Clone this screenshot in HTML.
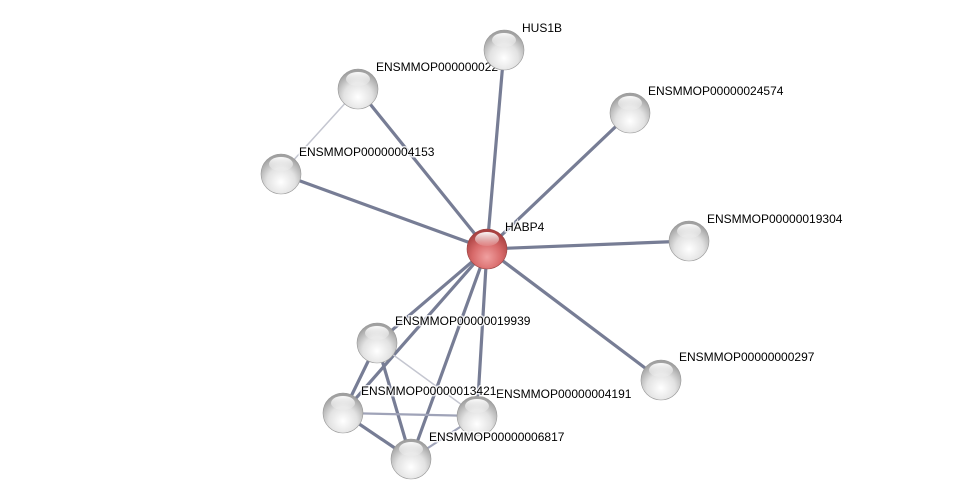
<!DOCTYPE html>
<html><head><meta charset="utf-8"><style>
html,body{margin:0;padding:0;background:#fff;}
svg{display:block}
text{font-family:"Liberation Sans",sans-serif;font-size:12px;fill:#000;}
</style></head><body>
<svg width="975" height="504" viewBox="0 0 975 504" xmlns="http://www.w3.org/2000/svg">
<defs>
<radialGradient id="g" cx="0.5" cy="0.7" r="0.65">
<stop offset="0" stop-color="#ffffff"/>
<stop offset="0.55" stop-color="#e2e2e2"/>
<stop offset="1" stop-color="#a0a0a0"/>
</radialGradient>
<radialGradient id="r" cx="0.5" cy="0.7" r="0.65">
<stop offset="0" stop-color="#f0a0a0"/>
<stop offset="0.55" stop-color="#d86a6a"/>
<stop offset="1" stop-color="#a84040"/>
</radialGradient>
<linearGradient id="hl" x1="0" y1="0" x2="0" y2="1">
<stop offset="0" stop-color="#fff" stop-opacity="0.95"/>
<stop offset="1" stop-color="#fff" stop-opacity="0.1"/>
</linearGradient>
<g id="sph"><ellipse cx="0" cy="-10" rx="12" ry="7" fill="url(#hl)"/></g>
</defs>
<g stroke="#777d95" stroke-width="3.2" stroke-linecap="round">
<line x1="487" y1="249" x2="504" y2="50"/>
<line x1="487" y1="249" x2="358" y2="89"/>
<line x1="487" y1="249" x2="630" y2="113"/>
<line x1="487" y1="249" x2="281" y2="174"/>
<line x1="487" y1="249" x2="689" y2="241"/>
<line x1="487" y1="249" x2="661" y2="380"/>
<line x1="487" y1="249" x2="377" y2="343"/>
<line x1="487" y1="249" x2="343" y2="413"/>
<line x1="487" y1="249" x2="477" y2="416"/>
<line x1="487" y1="249" x2="411" y2="459"/>
<line x1="377" y1="343" x2="343" y2="413"/>
<line x1="377" y1="343" x2="411" y2="459"/>
<line x1="343" y1="413" x2="411" y2="459"/>
</g>
<g stroke="#9fa3b8" stroke-width="2.2">
<line x1="343" y1="413" x2="477" y2="416"/>
<line x1="411" y1="459" x2="477" y2="416"/>
</g>
<g stroke="#c4c6d0" stroke-width="1.5">
<line x1="358" y1="89" x2="281" y2="174"/>
<line x1="377" y1="343" x2="477" y2="416"/>
</g>
<g style="paint-order:stroke" stroke="#fff" stroke-width="3" stroke-opacity="0.8">
<text x="376" y="71">ENSMMOP000000022</text>
</g>
<g>
<circle cx="504" cy="50" r="20" fill="url(#g)" stroke="#999" stroke-width="0.6"/><use href="#sph" x="504" y="50"/>
<circle cx="358" cy="89" r="20" fill="url(#g)" stroke="#999" stroke-width="0.6"/><use href="#sph" x="358" y="89"/>
<circle cx="630" cy="113" r="20" fill="url(#g)" stroke="#999" stroke-width="0.6"/><use href="#sph" x="630" y="113"/>
<circle cx="281" cy="174" r="20" fill="url(#g)" stroke="#999" stroke-width="0.6"/><use href="#sph" x="281" y="174"/>
<circle cx="689" cy="241" r="20" fill="url(#g)" stroke="#999" stroke-width="0.6"/><use href="#sph" x="689" y="241"/>
<circle cx="661" cy="380" r="20" fill="url(#g)" stroke="#999" stroke-width="0.6"/><use href="#sph" x="661" y="380"/>
<circle cx="377" cy="343" r="20" fill="url(#g)" stroke="#999" stroke-width="0.6"/><use href="#sph" x="377" y="343"/>
<circle cx="343" cy="413" r="20" fill="url(#g)" stroke="#999" stroke-width="0.6"/><use href="#sph" x="343" y="413"/>
<circle cx="477" cy="416" r="20" fill="url(#g)" stroke="#999" stroke-width="0.6"/><use href="#sph" x="477" y="416"/>
<circle cx="411" cy="459" r="20" fill="url(#g)" stroke="#999" stroke-width="0.6"/><use href="#sph" x="411" y="459"/>
<circle cx="487" cy="249" r="20" fill="url(#r)" stroke="#944" stroke-width="0.6"/><use href="#sph" x="487" y="249"/>
</g>
<g style="paint-order:stroke" stroke="#fff" stroke-width="3" stroke-opacity="0.8">
<text x="522" y="32">HUS1B</text>
<text x="648" y="95">ENSMMOP00000024574</text>
<text x="299" y="156">ENSMMOP00000004153</text>
<text x="505" y="231">HABP4</text>
<text x="707" y="223">ENSMMOP00000019304</text>
<text x="679" y="361">ENSMMOP00000000297</text>
<text x="395" y="325">ENSMMOP00000019939</text>
<text x="496" y="398">ENSMMOP00000004191</text>
<text x="361" y="395">ENSMMOP00000013421</text>
<text x="429" y="441">ENSMMOP00000006817</text>
</g>
</svg>
</body></html>
